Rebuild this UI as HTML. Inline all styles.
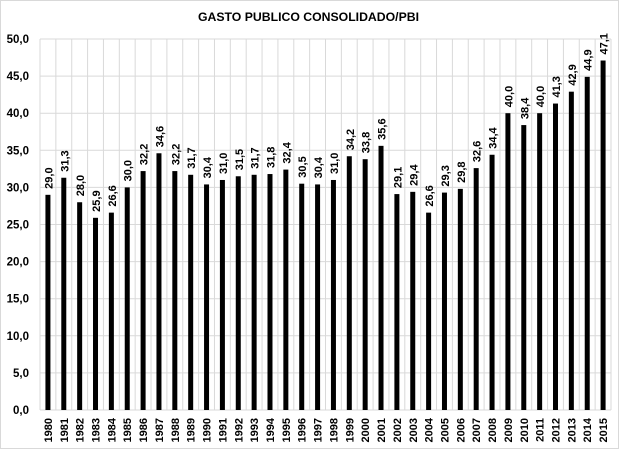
<!DOCTYPE html>
<html><head><meta charset="utf-8"><style>
html,body{margin:0;padding:0;background:#fff;}
svg{display:block;font-family:"Liberation Sans",Arial,sans-serif;}
</style></head><body>
<svg width="620" height="451" viewBox="0 0 620 451" xmlns="http://www.w3.org/2000/svg">
<rect x="0.5" y="0.5" width="618" height="448" fill="#fff" stroke="#d9d9d9" stroke-width="1"/>
<text x="308.5" y="21" text-anchor="middle" font-size="12" font-weight="bold" textLength="221" lengthAdjust="spacingAndGlyphs">GASTO PUBLICO CONSOLIDADO/PBI</text>
<g stroke="#d9d9d9" stroke-width="1">
<line x1="40" x2="611" y1="39" y2="39"/><line x1="40" x2="611" y1="76.1" y2="76.1"/><line x1="40" x2="611" y1="113.2" y2="113.2"/><line x1="40" x2="611" y1="150.3" y2="150.3"/><line x1="40" x2="611" y1="187.4" y2="187.4"/><line x1="40" x2="611" y1="224.5" y2="224.5"/><line x1="40" x2="611" y1="261.6" y2="261.6"/><line x1="40" x2="611" y1="298.7" y2="298.7"/><line x1="40" x2="611" y1="335.8" y2="335.8"/><line x1="40" x2="611" y1="372.9" y2="372.9"/><line x1="40" x2="611" y1="410" y2="410"/>
<line x1="40" x2="40" y1="39" y2="410"/><line x1="55.86" x2="55.86" y1="39" y2="410"/><line x1="71.72" x2="71.72" y1="39" y2="410"/><line x1="87.58" x2="87.58" y1="39" y2="410"/><line x1="103.44" x2="103.44" y1="39" y2="410"/><line x1="119.31" x2="119.31" y1="39" y2="410"/><line x1="135.17" x2="135.17" y1="39" y2="410"/><line x1="151.03" x2="151.03" y1="39" y2="410"/><line x1="166.89" x2="166.89" y1="39" y2="410"/><line x1="182.75" x2="182.75" y1="39" y2="410"/><line x1="198.61" x2="198.61" y1="39" y2="410"/><line x1="214.47" x2="214.47" y1="39" y2="410"/><line x1="230.33" x2="230.33" y1="39" y2="410"/><line x1="246.19" x2="246.19" y1="39" y2="410"/><line x1="262.06" x2="262.06" y1="39" y2="410"/><line x1="277.92" x2="277.92" y1="39" y2="410"/><line x1="293.78" x2="293.78" y1="39" y2="410"/><line x1="309.64" x2="309.64" y1="39" y2="410"/><line x1="325.5" x2="325.5" y1="39" y2="410"/><line x1="341.36" x2="341.36" y1="39" y2="410"/><line x1="357.22" x2="357.22" y1="39" y2="410"/><line x1="373.08" x2="373.08" y1="39" y2="410"/><line x1="388.94" x2="388.94" y1="39" y2="410"/><line x1="404.81" x2="404.81" y1="39" y2="410"/><line x1="420.67" x2="420.67" y1="39" y2="410"/><line x1="436.53" x2="436.53" y1="39" y2="410"/><line x1="452.39" x2="452.39" y1="39" y2="410"/><line x1="468.25" x2="468.25" y1="39" y2="410"/><line x1="484.11" x2="484.11" y1="39" y2="410"/><line x1="499.97" x2="499.97" y1="39" y2="410"/><line x1="515.83" x2="515.83" y1="39" y2="410"/><line x1="531.69" x2="531.69" y1="39" y2="410"/><line x1="547.56" x2="547.56" y1="39" y2="410"/><line x1="563.42" x2="563.42" y1="39" y2="410"/><line x1="579.28" x2="579.28" y1="39" y2="410"/><line x1="595.14" x2="595.14" y1="39" y2="410"/><line x1="611" x2="611" y1="39" y2="410"/>
</g>
<g font-size="11.5" font-weight="bold" text-anchor="end" fill="#000">
<text x="29" y="43">50,0</text><text x="29" y="80.1">45,0</text><text x="29" y="117.2">40,0</text><text x="29" y="154.3">35,0</text><text x="29" y="191.4">30,0</text><text x="29" y="228.5">25,0</text><text x="29" y="265.6">20,0</text><text x="29" y="302.7">15,0</text><text x="29" y="339.8">10,0</text><text x="29" y="376.9">5,0</text><text x="29" y="414">0,0</text>
</g>
<g fill="#000">
<rect x="45.43" y="194.82" width="5" height="215.18"/>
<rect x="61.29" y="177.75" width="5" height="232.25"/>
<rect x="77.15" y="202.24" width="5" height="207.76"/>
<rect x="93.01" y="217.82" width="5" height="192.18"/>
<rect x="108.88" y="212.63" width="5" height="197.37"/>
<rect x="124.74" y="187.4" width="5" height="222.6"/>
<rect x="140.6" y="171.08" width="5" height="238.92"/>
<rect x="156.46" y="153.27" width="5" height="256.73"/>
<rect x="172.32" y="171.08" width="5" height="238.92"/>
<rect x="188.18" y="174.79" width="5" height="235.21"/>
<rect x="204.05" y="184.43" width="5" height="225.57"/>
<rect x="219.91" y="179.98" width="5" height="230.02"/>
<rect x="235.77" y="176.27" width="5" height="233.73"/>
<rect x="251.63" y="174.79" width="5" height="235.21"/>
<rect x="267.49" y="174.04" width="5" height="235.96"/>
<rect x="283.35" y="169.59" width="5" height="240.41"/>
<rect x="299.22" y="183.69" width="5" height="226.31"/>
<rect x="315.08" y="184.43" width="5" height="225.57"/>
<rect x="330.94" y="179.98" width="5" height="230.02"/>
<rect x="346.8" y="156.24" width="5" height="253.76"/>
<rect x="362.66" y="159.2" width="5" height="250.8"/>
<rect x="378.52" y="145.85" width="5" height="264.15"/>
<rect x="394.39" y="194.08" width="5" height="215.92"/>
<rect x="410.25" y="191.85" width="5" height="218.15"/>
<rect x="426.11" y="212.63" width="5" height="197.37"/>
<rect x="441.97" y="192.59" width="5" height="217.41"/>
<rect x="457.83" y="188.88" width="5" height="221.12"/>
<rect x="473.69" y="168.11" width="5" height="241.89"/>
<rect x="489.56" y="154.75" width="5" height="255.25"/>
<rect x="505.42" y="113.2" width="5" height="296.8"/>
<rect x="521.28" y="125.07" width="5" height="284.93"/>
<rect x="537.14" y="113.2" width="5" height="296.8"/>
<rect x="553" y="103.55" width="5" height="306.45"/>
<rect x="568.86" y="91.68" width="5" height="318.32"/>
<rect x="584.73" y="76.84" width="5" height="333.16"/>
<rect x="600.59" y="60.52" width="5" height="349.48"/>
</g>
<g font-size="11" font-weight="bold" fill="#000">
<text transform="translate(52.43,188.82) rotate(-90)">29,0</text>
<text transform="translate(68.29,171.75) rotate(-90)">31,3</text>
<text transform="translate(84.15,196.24) rotate(-90)">28,0</text>
<text transform="translate(100.01,211.82) rotate(-90)">25,9</text>
<text transform="translate(115.88,206.63) rotate(-90)">26,6</text>
<text transform="translate(131.74,181.4) rotate(-90)">30,0</text>
<text transform="translate(147.6,165.08) rotate(-90)">32,2</text>
<text transform="translate(163.46,147.27) rotate(-90)">34,6</text>
<text transform="translate(179.32,165.08) rotate(-90)">32,2</text>
<text transform="translate(195.18,168.79) rotate(-90)">31,7</text>
<text transform="translate(211.05,178.43) rotate(-90)">30,4</text>
<text transform="translate(226.91,173.98) rotate(-90)">31,0</text>
<text transform="translate(242.77,170.27) rotate(-90)">31,5</text>
<text transform="translate(258.63,168.79) rotate(-90)">31,7</text>
<text transform="translate(274.49,168.04) rotate(-90)">31,8</text>
<text transform="translate(290.35,163.59) rotate(-90)">32,4</text>
<text transform="translate(306.22,177.69) rotate(-90)">30,5</text>
<text transform="translate(322.08,178.43) rotate(-90)">30,4</text>
<text transform="translate(337.94,173.98) rotate(-90)">31,0</text>
<text transform="translate(353.8,150.24) rotate(-90)">34,2</text>
<text transform="translate(369.66,153.2) rotate(-90)">33,8</text>
<text transform="translate(385.52,139.85) rotate(-90)">35,6</text>
<text transform="translate(401.39,188.08) rotate(-90)">29,1</text>
<text transform="translate(417.25,185.85) rotate(-90)">29,4</text>
<text transform="translate(433.11,206.63) rotate(-90)">26,6</text>
<text transform="translate(448.97,186.59) rotate(-90)">29,3</text>
<text transform="translate(464.83,182.88) rotate(-90)">29,8</text>
<text transform="translate(480.69,162.11) rotate(-90)">32,6</text>
<text transform="translate(496.56,148.75) rotate(-90)">34,4</text>
<text transform="translate(512.42,107.2) rotate(-90)">40,0</text>
<text transform="translate(528.28,119.07) rotate(-90)">38,4</text>
<text transform="translate(544.14,107.2) rotate(-90)">40,0</text>
<text transform="translate(560,97.55) rotate(-90)">41,3</text>
<text transform="translate(575.86,85.68) rotate(-90)">42,9</text>
<text transform="translate(591.73,70.84) rotate(-90)">44,9</text>
<text transform="translate(607.59,54.52) rotate(-90)">47,1</text>
</g>
<g font-size="11" font-weight="bold" fill="#000" text-anchor="end">
<text transform="translate(51.93,418) rotate(-90)">1980</text>
<text transform="translate(67.79,418) rotate(-90)">1981</text>
<text transform="translate(83.65,418) rotate(-90)">1982</text>
<text transform="translate(99.51,418) rotate(-90)">1983</text>
<text transform="translate(115.38,418) rotate(-90)">1984</text>
<text transform="translate(131.24,418) rotate(-90)">1985</text>
<text transform="translate(147.1,418) rotate(-90)">1986</text>
<text transform="translate(162.96,418) rotate(-90)">1987</text>
<text transform="translate(178.82,418) rotate(-90)">1988</text>
<text transform="translate(194.68,418) rotate(-90)">1989</text>
<text transform="translate(210.55,418) rotate(-90)">1990</text>
<text transform="translate(226.41,418) rotate(-90)">1991</text>
<text transform="translate(242.27,418) rotate(-90)">1992</text>
<text transform="translate(258.13,418) rotate(-90)">1993</text>
<text transform="translate(273.99,418) rotate(-90)">1994</text>
<text transform="translate(289.85,418) rotate(-90)">1995</text>
<text transform="translate(305.72,418) rotate(-90)">1996</text>
<text transform="translate(321.58,418) rotate(-90)">1997</text>
<text transform="translate(337.44,418) rotate(-90)">1998</text>
<text transform="translate(353.3,418) rotate(-90)">1999</text>
<text transform="translate(369.16,418) rotate(-90)">2000</text>
<text transform="translate(385.02,418) rotate(-90)">2001</text>
<text transform="translate(400.89,418) rotate(-90)">2002</text>
<text transform="translate(416.75,418) rotate(-90)">2003</text>
<text transform="translate(432.61,418) rotate(-90)">2004</text>
<text transform="translate(448.47,418) rotate(-90)">2005</text>
<text transform="translate(464.33,418) rotate(-90)">2006</text>
<text transform="translate(480.19,418) rotate(-90)">2007</text>
<text transform="translate(496.06,418) rotate(-90)">2008</text>
<text transform="translate(511.92,418) rotate(-90)">2009</text>
<text transform="translate(527.78,418) rotate(-90)">2010</text>
<text transform="translate(543.64,418) rotate(-90)">2011</text>
<text transform="translate(559.5,418) rotate(-90)">2012</text>
<text transform="translate(575.36,418) rotate(-90)">2013</text>
<text transform="translate(591.23,418) rotate(-90)">2014</text>
<text transform="translate(607.09,418) rotate(-90)">2015</text>
</g>
</svg>
</body></html>
